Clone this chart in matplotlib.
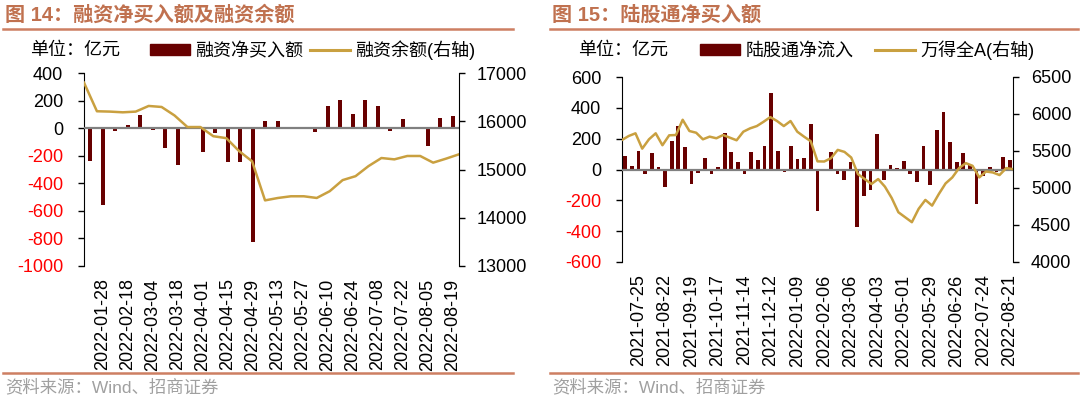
import numpy as np
import pandas as pd
import matplotlib
matplotlib.use('Agg')
import matplotlib.pyplot as plt
from matplotlib.lines import Line2D
from matplotlib.patches import Patch

plt.rcParams['font.family'] = ['Liberation Sans', 'Noto Sans CJK SC', 'DejaVu Sans']

BAR_COLOR = '#680000'
LINE_COLOR = '#C9A040'
TITLE_COLOR = '#C0714F'
RULE_COLOR = '#CD7F62'

# left chart: weekly margin financing (2022, spring festival week missing)
margin_dates = [d for d in pd.date_range('2022-01-21', '2022-08-19', freq='7D')
                if d != pd.Timestamp('2022-02-04')]
margin_net = [-240, -560, -22, 22, 97, -12, -145, -264, 3, -170,
              -34, -249, -242, -826, 50, 51, 2, -3, -29, 162,
              201, 99, 206, 162, -19, 63, 2, -131, 77, 85]
margin_balance = [16800, 16207, 16200, 16185, 16200, 16317, 16296, 16120, 15880, 15880,
                  15690, 15650, 15380, 15170, 14360, 14410, 14445, 14445, 14410, 14550,
                  14780, 14862, 15070, 15238, 15210, 15280, 15280, 15142, 15225, 15315]

# right chart: northbound net inflow and Wind All A
north_dates = pd.date_range('2021-07-11', periods=59, freq='7D')
north_flow = [85, 20, 122, -28, 104, 17, -111, 185, 283, 146,
              -93, -20, 72, -30, 17, 239, 111, 48, -30, 115,
              59, 154, 493, 120, -15, 150, 65, 76, 298, -267,
              0, 113, -28, -67, 46, -370, -172, -133, 233, -70,
              30, 9, 57, -26, -78, 154, -100, 259, 372, 178,
              46, 107, 30, -224, -43, 15, -17, 80, 63]
wind_a = [5649, 5703, 5739, 5532, 5658, 5739, 5578, 5712, 5716, 5922,
          5770, 5747, 5658, 5694, 5672, 5716, 5680, 5645, 5761, 5806,
          5837, 5895, 5958, 5905, 5837, 5905, 5761, 5694, 5632, 5360,
          5358, 5403, 5515, 5488, 5412, 5188, 5121, 5054, 5121, 5018,
          4866, 4672, 4605, 4538, 4718, 4839, 4762, 4919, 5062, 5143,
          5269, 5336, 5300, 5143, 5223, 5210, 5175, 5269, 5255]

W, H = 1080, 399
FS = 13
fig = plt.figure(figsize=(W / 100, H / 100), dpi=100)


def px_axes(x0, y0, x1, y1):
    return fig.add_axes([x0 / W, 1 - y1 / H, (x1 - x0) / W, (y1 - y0) / H])


def style_axes(ax, ax2, labels, label_idx, left_ticks, right_ticks):
    n = len(labels)
    ax.set_xlim(-0.5, n - 0.5)
    ax.set_xticks(label_idx)
    ax.set_xticklabels([labels[i].strftime('%Y-%m-%d') for i in label_idx],
                       rotation=90, fontsize=FS)
    ax.tick_params(axis='x', length=0, pad=9)
    ax.set_yticks(left_ticks)
    ax.set_ylim(left_ticks[0], left_ticks[-1])
    ax.set_yticklabels([str(v) for v in left_ticks], fontsize=FS)
    for t, v in zip(ax.get_yticklabels(), left_ticks):
        t.set_color('#FF0000' if v < 0 else 'black')
    ax.tick_params(axis='y', direction='out', length=4, width=1, pad=11)
    ax2.set_yticks(right_ticks)
    ax2.set_ylim(right_ticks[0], right_ticks[-1])
    ax2.set_yticklabels([str(v) for v in right_ticks], fontsize=FS)
    ax2.tick_params(axis='y', direction='out', length=4, width=1, pad=9)
    for a in (ax, ax2):
        a.spines['top'].set_visible(False)
        a.spines['bottom'].set_visible(False)
        a.patch.set_visible(False)
    ax.spines['right'].set_visible(False)
    ax2.spines['left'].set_visible(False)
    ax.axhline(0, color='#808080', lw=1.6, zorder=3)


def header_footer(x0, x1, title):
    fig.text((x0 + 2) / W, 1 - 15 / H, title, fontsize=14.5, fontweight='bold',
             color=TITLE_COLOR, va='center', ha='left')
    fig.add_artist(Line2D([x0 / W, x1 / W], [1 - 29 / H, 1 - 29 / H],
                          color=RULE_COLOR, lw=1.8, transform=fig.transFigure))
    fig.add_artist(Line2D([x0 / W, x1 / W], [1 - 373 / H, 1 - 373 / H],
                          color=RULE_COLOR, lw=1.8, transform=fig.transFigure))
    fig.text((x0 + 2) / W, 1 - 387 / H, '资料来源：Wind、招商证券', fontsize=12.5,
             color='#A0A0A0', va='center', ha='left')


# ---- left chart ----
ax = px_axes(84, 73, 459, 266)
ax2 = ax.twinx()
x = np.arange(len(margin_net))
ax.bar(x, margin_net, width=0.33, color=BAR_COLOR, zorder=2)
xl = np.linspace(-0.5, len(margin_balance) - 0.5, len(margin_balance))
ax2.plot(xl, margin_balance, color=LINE_COLOR, lw=1.8)
style_axes(ax, ax2, margin_dates, list(range(1, len(margin_dates), 2)),
           list(range(-1000, 401, 200)), list(range(13000, 17001, 1000)))
header_footer(3, 513, '图 14：融资净买入额及融资余额')
fig.text(30 / W, 1 - 50 / H, '单位：亿元', fontsize=FS, va='center', ha='left')
fig.legend(handles=[Patch(color=BAR_COLOR, label='融资净买入额'),
                    Line2D([], [], color=LINE_COLOR, lw=2.2, label='融资余额(右轴)')],
           loc='center left', bbox_to_anchor=(150 / W, 1 - 50 / H), ncol=2,
           frameon=False, fontsize=FS, borderpad=0, borderaxespad=0,
           handlelength=2.2, handleheight=0.5, handletextpad=0.3, columnspacing=0.4)

# ---- right chart ----
bx = px_axes(622, 77, 1013, 262)
bx2 = bx.twinx()
x = np.arange(len(north_flow))
bx.bar(x, north_flow, width=0.56, color=BAR_COLOR, zorder=2)
xl = np.linspace(-0.5, len(wind_a) - 0.5, len(wind_a))
bx2.plot(xl, wind_a, color=LINE_COLOR, lw=1.8)
style_axes(bx, bx2, north_dates, list(range(2, len(north_dates), 4)),
           list(range(-600, 601, 200)), list(range(4000, 6501, 500)))
header_footer(550, 1078, '图 15：陆股通净买入额')
fig.text(578 / W, 1 - 50 / H, '单位：亿元', fontsize=FS, va='center', ha='left')
fig.legend(handles=[Patch(color=BAR_COLOR, label='陆股通净流入'),
                    Line2D([], [], color=LINE_COLOR, lw=2.2, label='万得全A(右轴)')],
           loc='center left', bbox_to_anchor=(700 / W, 1 - 50 / H), ncol=2,
           frameon=False, fontsize=FS, borderpad=0, borderaxespad=0,
           handlelength=2.2, handleheight=0.5, handletextpad=0.3, columnspacing=1.2)

fig.savefig('out.png', dpi=100)
